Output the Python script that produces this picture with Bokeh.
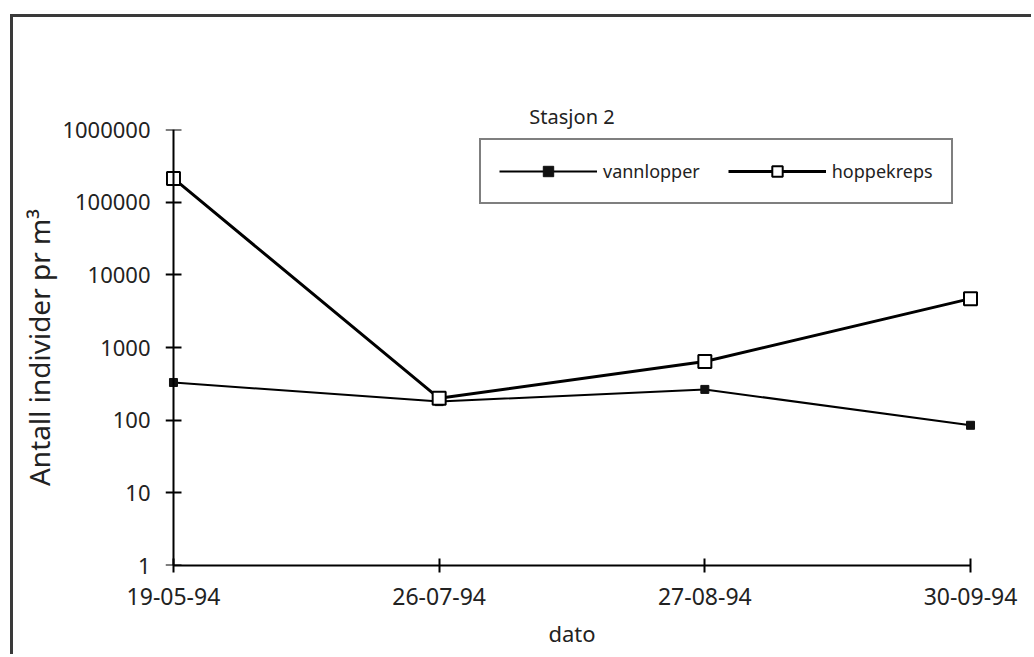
from bokeh.plotting import figure
from bokeh.models import FixedTicker, Legend, LegendItem, CustomJSTickFormatter, LogAxis, Title
from bokeh.embed import file_html
from bokeh.resources import INLINE

dates = ["19-05-94", "26-07-94", "27-08-94", "30-09-94"]
vannlopper = [330, 180, 265, 85]
hoppekreps = [212000, 200, 640, 4700]
y_tick_values = [1, 10, 100, 1000, 10000, 100000, 1000000]
y_tick_labels = ["1", "10", "100", "1000", "10000", "100000", "1000000"]
title_text = "Stasjon 2"
x_label = "dato"
y_label = "Antall individer pr m³"

FONT = "Noto Sans"
TXT = "#222222"
xs = list(range(len(dates)))
PAD = 0.03

p = figure(width=1021, height=640, y_axis_type="log",
           x_range=(-PAD, len(dates) - 1 + PAD), y_range=(1, 1e6),
           output_backend="svg", toolbar_location=None,
           min_border_left=152, min_border_right=56,
           min_border_top=112, min_border_bottom=92)
p.margin = (14, 0, 0, 10)
p.styles = {"border-left": "3px solid #3a3a3a", "border-top": "3px solid #3a3a3a"}
p.outline_line_color = None
p.xgrid.visible = False
p.ygrid.visible = False
p.background_fill_color = "white"
p.border_fill_color = "white"

# the built-in title stays empty; the chart title sits above a spacer
p.title.text = ""
p.title.standoff = 0
main_title = Title(text=title_text, align="center", standoff=0,
                   text_font=FONT, text_font_size="20px", text_font_style="normal",
                   text_color=TXT)
p.add_layout(main_title, "above")
spacer = Title(text=".", text_alpha=0, text_font_size="4px", standoff=50)
p.add_layout(spacer, "above")

# x axis
p.xaxis.ticker = FixedTicker(ticks=xs)
p.xaxis.formatter = CustomJSTickFormatter(args=dict(labels=dates),
                                          code="return labels[Math.round(tick)] || ''")
p.xaxis.bounds = (0, len(dates) - 1)
p.xaxis.minor_tick_line_color = None
p.xaxis.major_tick_in = 7
p.xaxis.major_tick_out = 7
p.xaxis.axis_line_width = 2
p.xaxis.major_tick_line_width = 2
p.xaxis.major_label_text_font = FONT
p.xaxis.major_label_text_font_size = "23px"
p.xaxis.major_label_text_color = TXT
p.xaxis.major_label_standoff = 15
p.xaxis.axis_label = x_label
p.xaxis.axis_label_text_font = FONT
p.xaxis.axis_label_text_font_size = "22px"
p.xaxis.axis_label_text_font_style = "normal"
p.xaxis.axis_label_text_color = TXT
p.xaxis.axis_label_standoff = 10

# y axis: tick labels on the regular left axis
yax = p.yaxis[0]
yax.ticker = FixedTicker(ticks=y_tick_values)
yax.major_label_overrides = {v: l for v, l in zip(y_tick_values, y_tick_labels)}
yax.minor_tick_line_color = None
yax.major_tick_line_color = None
yax.axis_line_color = None
yax.major_tick_in = 0
yax.major_tick_out = 0
yax.major_label_text_font = FONT
yax.major_label_text_font_size = "22px"
yax.major_label_text_color = TXT
yax.major_label_standoff = 15

# y axis title
ytitle = Title(text=y_label, align="center", offset=25, standoff=4,
               text_font=FONT, text_font_size="28px", text_font_style="normal",
               text_color=TXT)
p.add_layout(ytitle, "left")

# y axis line + ticks placed at the first date
yline = LogAxis(fixed_location=0, ticker=FixedTicker(ticks=y_tick_values),
                major_label_text_color=None, major_label_text_font_size="1px",
                minor_tick_line_color=None, major_tick_in=8, major_tick_out=8,
                axis_line_width=2, major_tick_line_width=2)
p.add_layout(yline, "right")

# series
l1 = p.line(xs, vannlopper, line_color="black", line_width=2)
m1 = p.scatter(xs, vannlopper, marker="square", size=8, fill_color="#111111",
               line_color="#111111")
l2 = p.line(xs, hoppekreps, line_color="black", line_width=3)
m2 = p.scatter(xs, hoppekreps, marker="square", size=13, fill_color="white",
               line_color="black", line_width=2)

legend = Legend(items=[LegendItem(label="vannlopper", renderers=[l1, m1]),
                       LegendItem(label="hoppekreps", renderers=[l2, m2])],
                orientation="horizontal", location=(314, 361),
                glyph_width=98, glyph_height=26, label_standoff=6,
                spacing=28, padding=18, margin=0,
                border_line_color="black", border_line_width=2,
                label_text_font=FONT, label_text_font_size="18px",
                label_text_color=TXT,
                background_fill_color="white", background_fill_alpha=1)
p.add_layout(legend, "center")

open("out.html", "w").write(file_html(p, INLINE))
